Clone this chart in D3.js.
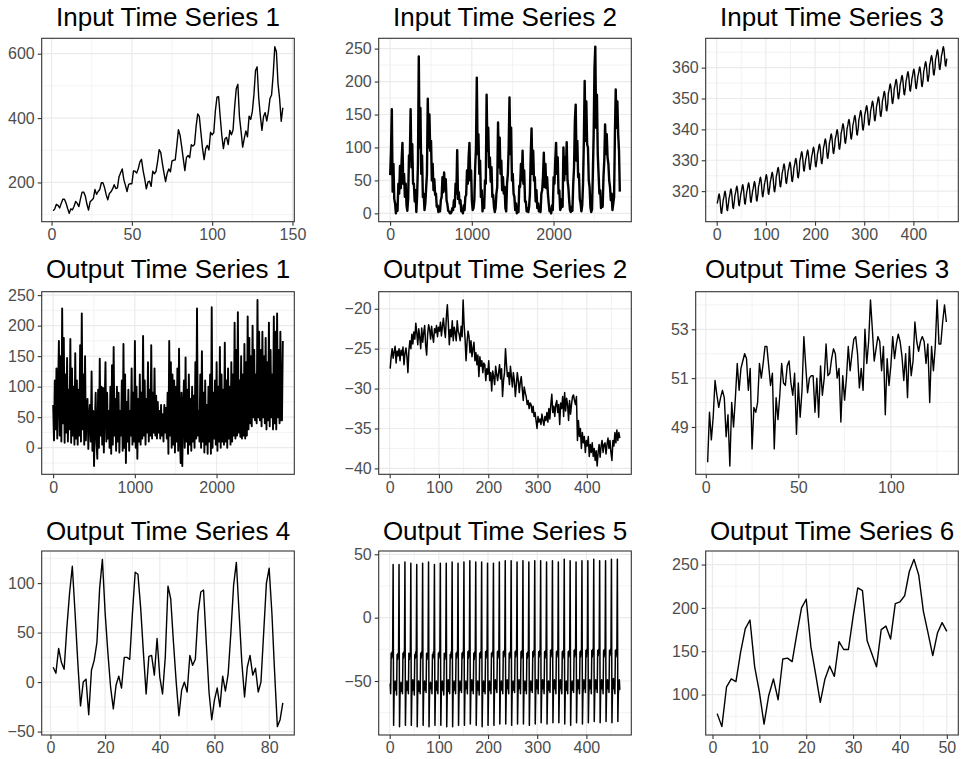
<!DOCTYPE html>
<html>
<head>
<meta charset="utf-8">
<script src="https://cdn.jsdelivr.net/npm/d3@7"></script>
<style>
  body { margin: 0; background: #fff; }
  text { font-family: "Liberation Sans", Arial, sans-serif; }
</style>
</head>
<body>
<svg id="chart" width="966" height="759"></svg>
<script>
// ---- data ----

// Input 1 : monthly, 144 points
var input1 = [
  112,118,132,129,121,135,148,148,136,119,104,118,
  115,126,141,135,125,149,170,170,158,133,114,140,
  145,150,178,163,172,178,199,199,184,162,146,166,
  171,180,193,181,183,218,230,242,209,191,172,194,
  196,196,236,235,229,243,264,272,237,211,180,201,
  204,188,235,227,234,264,302,293,259,229,203,229,
  242,233,267,269,270,315,364,347,312,274,237,278,
  284,277,317,313,318,374,413,405,355,306,271,306,
  315,301,356,348,355,422,465,467,404,347,305,336,
  340,318,362,348,363,435,491,505,404,359,310,337,
  360,342,406,396,420,472,548,559,463,407,362,405,
  417,391,419,461,472,535,622,606,508,461,390,432
];

// Input 2 : ~2820 points, read every 10th
var input2Step = 10;
var input2 = [
  58,95,158,33,75,22,15,0,14,4,45,30,72,38,80,107,45,60,25,45,
  12,4,22,88,80,158,70,105,45,45,18,35,2,28,75,238,100,160,60,88,
  25,30,5,15,38,60,174,100,150,95,110,50,75,35,52,28,30,10,12,2,
  10,3,20,25,55,32,62,35,52,20,14,4,3,0,0,2,8,5,20,10,
  45,30,96,22,32,15,20,3,6,0,12,5,25,28,65,45,85,107,50,65,
  18,5,8,20,70,100,206,90,120,60,80,25,35,3,18,8,50,45,180,95,
  130,70,85,48,70,25,28,10,2,8,30,40,138,70,115,60,80,35,55,30,
  40,8,3,45,60,100,176,90,130,50,60,30,25,5,15,0,8,2,42,40,
  75,50,95,45,65,18,18,3,8,2,10,30,90,129,60,95,50,55,18,35,
  8,15,3,4,2,30,35,55,92,40,75,38,55,30,15,3,5,0,12,5,
  55,45,80,107,60,85,30,35,5,8,22,10,100,50,85,60,108,50,40,20,
  5,2,10,4,45,70,140,165,80,110,55,60,22,15,3,12,45,110,201,110,
  170,105,100,50,40,10,2,6,60,120,220,253,130,180,90,60,30,35,8,15,
  10,55,80,135,90,120,85,75,50,40,20,30,5,15,25,120,188,130,170,120,
  95,33
];

// Input 3 : monthly, 468 points
var input3 = [
  316.0,316.7,317.5,318.6,319.1,318.4,316.9,314.8,313.0,312.8,314.1,315.2,
  316.9,317.6,318.4,319.5,320.0,319.3,317.8,315.7,313.9,313.7,315.0,316.1,
  317.6,318.3,319.1,320.2,320.7,320.0,318.5,316.4,314.6,314.4,315.7,316.8,
  318.5,319.2,320.0,321.1,321.6,320.9,319.4,317.3,315.5,315.3,316.6,317.7,
  319.0,319.7,320.5,321.6,322.1,321.4,319.9,317.8,316.0,315.8,317.1,318.2,
  319.6,320.3,321.1,322.2,322.7,322.0,320.5,318.4,316.6,316.4,317.7,318.8,
  320.0,320.7,321.5,322.6,323.1,322.4,320.9,318.8,317.0,316.8,318.1,319.2,
  321.4,322.1,322.9,324.0,324.5,323.8,322.3,320.2,318.4,318.2,319.5,320.6,
  322.2,322.9,323.7,324.8,325.3,324.6,323.1,321.0,319.2,319.0,320.3,321.4,
  323.0,323.7,324.5,325.6,326.1,325.4,323.9,321.8,320.0,319.8,321.1,322.2,
  324.6,325.3,326.1,327.2,327.7,327.0,325.5,323.4,321.6,321.4,322.7,323.8,
  325.7,326.4,327.2,328.3,328.8,328.1,326.6,324.5,322.7,322.5,323.8,324.9,
  326.3,327.0,327.8,328.9,329.4,328.7,327.2,325.1,323.3,323.1,324.4,325.5,
  327.5,328.2,329.0,330.1,330.6,329.9,328.4,326.3,324.5,324.3,325.6,326.7,
  329.7,330.4,331.2,332.3,332.8,332.1,330.6,328.5,326.7,326.5,327.8,328.9,
  330.2,330.9,331.7,332.8,333.3,332.6,331.1,329.0,327.2,327.0,328.3,329.4,
  331.1,331.8,332.6,333.7,334.2,333.5,332.0,329.9,328.1,327.9,329.2,330.3,
  332.1,332.8,333.6,334.7,335.2,334.5,333.0,330.9,329.1,328.9,330.2,331.3,
  333.8,334.5,335.3,336.4,336.9,336.2,334.7,332.6,330.8,330.6,331.9,333.0,
  335.4,336.1,336.9,338.0,338.5,337.8,336.3,334.2,332.4,332.2,333.5,334.6,
  336.8,337.5,338.3,339.4,339.9,339.2,337.7,335.6,333.8,333.6,334.9,336.0,
  338.7,339.4,340.2,341.3,341.8,341.1,339.6,337.5,335.7,335.5,336.8,337.9,
  340.1,340.8,341.6,342.7,343.2,342.5,341.0,338.9,337.1,336.9,338.2,339.3,
  341.4,342.1,342.9,344.0,344.5,343.8,342.3,340.2,338.4,338.2,339.5,340.6,
  343.0,343.7,344.5,345.6,346.1,345.4,343.9,341.8,340.0,339.8,341.1,342.2,
  344.6,345.3,346.1,347.2,347.7,347.0,345.5,343.4,341.6,341.4,342.7,343.8,
  346.0,346.7,347.5,348.6,349.1,348.4,346.9,344.8,343.0,342.8,344.1,345.2,
  347.4,348.1,348.9,350.0,350.5,349.8,348.3,346.2,344.4,344.2,345.5,346.6,
  349.2,349.9,350.7,351.8,352.3,351.6,350.1,348.0,346.2,346.0,347.3,348.4,
  351.6,352.3,353.1,354.2,354.7,354.0,352.5,350.4,348.6,348.4,349.7,350.8,
  353.1,353.8,354.6,355.7,356.2,355.5,354.0,351.9,350.1,349.9,351.2,352.3,
  354.4,355.1,355.9,357.0,357.5,356.8,355.3,353.2,351.4,351.2,352.5,353.6,
  355.6,356.3,357.1,358.2,358.7,358.0,356.5,354.4,352.6,352.4,353.7,354.8,
  356.4,357.1,357.9,359.0,359.5,358.8,357.3,355.2,353.4,353.2,354.5,355.6,
  357.1,357.8,358.6,359.7,360.2,359.5,358.0,355.9,354.1,353.9,355.2,356.3,
  358.8,359.5,360.3,361.4,361.9,361.2,359.7,357.6,355.8,355.6,356.9,358.0,
  360.8,361.5,362.3,363.4,363.9,363.2,361.7,359.6,357.8,357.6,358.9,360.0,
  362.6,363.3,364.1,365.2,365.7,365.0,363.5,361.4,359.6,359.4,360.7,361.8,
  363.7,364.4,365.2,366.3,366.8,366.1,364.6,362.5,360.7,360.5,361.8,362.9
];

// Output 1 : ~2820 points, read every 10th
var output1Step = 10;
var output1 = [
  70,12,110,30,130,15,95,175,20,150, 10,228,40,180,8,120,25,147,10,95,
  30,178,8,130,20,100,5,155,15,110, 5,95,20,168,10,220,30,120,5,150,
  12,60,80,-2,50,70,10,125,-5,60, -30,40,90,10,-18,95,0,146,20,100,
  5,98,-8,70,140,10,90,15,60,0, 100,-10,135,5,165,20,80,-5,100,10,
  90,-8,60,20,110,-5,170,0,120,-25, 75,10,95,-5,60,20,130,5,90,10,
  175,0,100,-18,80,10,120,5,90,15, 183,20,110,5,80,25,140,10,95,20,
  168,15,90,25,130,20,85,15,75,25, 60,15,70,20,55,10,70,25,65,15,
  90,-10,175,20,140,0,120,5,110,-8, 100,10,130,-5,162,20,-25,90,-30,60,
  110,0,148,10,95,-10,120,5,80,-5, 100,10,85,0,140,15,228,20,60,10,
  120,0,158,10,90,-8,110,5,70,-10, 100,10,120,-10,230,0,90,15,110,5,
  140,-5,100,10,165,0,120,10,95,5, 172,10,110,0,130,15,100,5,140,10,
  120,20,205,15,160,20,222,25,110,18, 150,15,120,20,170,15,140,20,215,30,
  180,40,150,35,200,50,160,45,120,40, 242,50,190,45,160,35,190,50,150,40,
  180,30,140,45,205,35,160,50,120,30, 215,40,190,30,220,50,160,40,190,45,
  45,175
];

// Output 2 : 468 points, read every 2nd
var output2Step = 2;
var output2 = [
  -27.5,-26.0,-25.0,-26.2,-25.4,-24.7,-26.8,-25.3,-25.9,-25.0,
  -26.5,-25.2,-25.8,-24.8,-27.0,-25.6,-24.9,-26.0,-28.0,-25.2,
  -24.0,-25.0,-23.2,-24.4,-22.9,-23.8,-21.8,-23.0,-24.5,-22.5,
  -23.6,-25.0,-22.4,-24.2,-23.0,-22.1,-24.6,-25.8,-23.2,-22.0,
  -22.6,-23.8,-22.2,-23.4,-24.2,-22.5,-23.0,-22.1,-23.5,-22.3,
  -22.8,-21.7,-23.4,-22.2,-21.2,-22.6,-23.6,-21.0,-19.5,-21.8,
  -24.5,-22.6,-23.5,-21.5,-24.0,-22.3,-23.0,-24.0,-21.5,-22.8,
  -23.2,-24.0,-22.2,-23.5,-18.9,-22.0,-23.8,-26.5,-24.2,-22.8,
  -23.5,-25.5,-24.0,-26.0,-25.0,-24.2,-26.5,-25.5,-27.0,-25.8,
  -28.5,-26.0,-27.2,-26.5,-28.0,-26.8,-27.0,-29.0,-27.5,-28.2,
  -26.5,-29.0,-28.0,-30.3,-27.8,-28.5,-29.5,-27.2,-28.2,-29.0,
  -28.0,-27.0,-28.8,-27.5,-31.0,-29.0,-28.0,-25.0,-27.0,-28.5,
  -28.0,-29.5,-27.2,-28.5,-29.8,-28.0,-29.0,-31.0,-29.5,-28.0,
  -29.0,-30.5,-29.2,-28.5,-30.0,-31.5,-29.8,-30.5,-31.0,-32.0,
  -31.5,-32.5,-31.8,-32.0,-33.0,-32.2,-33.5,-33.0,-34.0,-35.0,
  -33.5,-34.2,-33.8,-34.5,-33.2,-34.0,-34.6,-33.5,-34.0,-33.0,
  -34.2,-32.5,-33.8,-32.0,-30.7,-33.0,-32.2,-33.5,-32.0,-31.5,
  -33.0,-32.0,-34.5,-31.8,-32.5,-31.0,-33.5,-30.5,-32.8,-31.2,
  -32.0,-34.0,-31.5,-33.2,-32.0,-31.0,-30.8,-31.5,-32.0,-31.0,
  -36.5,-34.0,-36.0,-35.0,-37.5,-35.5,-36.8,-36.0,-38.0,-36.5,
  -37.2,-36.0,-38.5,-37.0,-38.0,-36.8,-38.5,-37.5,-39.0,-37.8,
  -39.7,-38.0,-37.0,-38.6,-37.2,-36.5,-38.0,-37.0,-36.8,-38.2,
  -37.0,-36.2,-37.5,-36.5,-38.0,-39.0,-36.5,-37.2,-35.5,-36.8,
  -35.2,-36.5,-35.5,-36.2
];

// Output 3 : 130 points
var output3 = [
  47.55,49.6,48.47,49.4,50.9,50.3,49.8,50.2,50.5,50.2,48.6,49.5,47.4,50.0,49.0,
  50.2,51.6,50.5,51.4,51.7,52.0,51.8,50.5,51.4,48.1,49.8,49.6,50.0,51.6,51.0,
  51.6,52.3,52.3,51.5,50.7,51.2,48.1,50.2,49.3,50.3,51.6,50.8,50.7,51.5,51.7,
  50.8,50.3,51.2,48.7,50.8,49.4,50.5,52.7,51.5,50.4,51.0,51.1,51.1,49.6,51.0,
  49.4,51.5,50.3,51.0,52.4,51.1,51.2,51.8,52.2,52.0,51.0,51.4,49.2,51.1,50.1,
  51.0,52.3,51.3,52.0,52.6,52.7,52.0,50.6,51.4,50.5,53.0,51.6,52.5,54.2,53.0,
  51.7,52.2,52.7,52.5,51.3,52.3,49.5,51.8,50.7,51.5,52.7,51.8,52.4,52.8,52.5,
  51.9,50.9,52.0,50.2,52.3,51.1,51.7,53.3,52.5,52.1,52.5,52.7,52.5,51.6,52.4,
  50.0,52.3,51.3,52.3,54.2,52.4,52.4,53.3,54.0,53.3
];

// Output 4 : 85 points
var output4 = [
  15,9,34,20,13,55,90,117,70,20,-24,0,3,-33,12,22,40,95,124,70,
  30,-5,-27,-3,6,-6,25,25,23,70,111,109,75,30,-12,26,27,7,44,5,
  -12,25,97,84,40,0,-34,-8,0,-10,27,17,23,70,91,93,40,-10,-38,-18,
  -6,-25,6,-9,8,50,98,121,70,20,-15,15,27,7,14,-10,0,50,100,115,
  70,10,-45,-38,-21
];

// Output 5 : monthly, 468 points
var output5 = [
  -52,-60,-28,-32,-27,-30,42,-85,-60,-55,-50,-57,
  -51,-61,-29,-33,-28,-31,42,-86,-61,-56,-51,-58,
  -52,-60,-28,-32,-27,-30,44,-85,-60,-55,-50,-57,
  -53,-60,-28,-33,-28,-30,43,-85,-61,-55,-49,-57,
  -52,-61,-29,-32,-27,-31,42,-86,-60,-56,-50,-58,
  -51,-60,-28,-32,-27,-30,43,-85,-60,-55,-50,-57,
  -52,-59,-28,-33,-28,-30,44,-86,-61,-55,-51,-56,
  -52,-60,-29,-32,-27,-31,42,-85,-60,-56,-50,-57,
  -51,-60,-28,-32,-27,-30,43,-85,-60,-55,-50,-57,
  -52,-61,-28,-33,-28,-30,43,-86,-61,-55,-49,-58,
  -53,-60,-29,-32,-27,-31,44,-86,-60,-56,-50,-57,
  -52,-60,-28,-32,-27,-30,43,-85,-60,-55,-50,-57,
  -51,-59,-28,-32,-27,-29,44,-85,-59,-55,-50,-56,
  -52,-60,-27,-32,-26,-30,45,-84,-60,-54,-49,-57,
  -52,-60,-28,-33,-27,-30,44,-85,-61,-55,-50,-57,
  -51,-61,-28,-32,-27,-31,44,-86,-60,-56,-50,-58,
  -52,-60,-27,-32,-26,-30,43,-85,-60,-55,-50,-57,
  -52,-60,-28,-31,-27,-29,43,-85,-60,-55,-49,-56,
  -51,-59,-27,-32,-26,-30,44,-84,-59,-54,-50,-57,
  -52,-60,-27,-31,-26,-29,45,-84,-60,-55,-49,-56,
  -51,-60,-28,-32,-27,-30,45,-85,-60,-55,-50,-57,
  -52,-59,-27,-31,-26,-29,44,-84,-59,-54,-49,-56,
  -51,-60,-27,-32,-26,-30,45,-84,-60,-55,-50,-57,
  -52,-60,-28,-32,-27,-30,44,-85,-60,-55,-50,-57,
  -51,-59,-27,-31,-26,-29,45,-84,-59,-54,-49,-56,
  -52,-60,-27,-31,-26,-29,45,-83,-60,-55,-49,-56,
  -51,-60,-27,-32,-26,-30,44,-84,-60,-55,-50,-57,
  -52,-59,-26,-31,-25,-29,45,-83,-59,-54,-49,-56,
  -51,-60,-27,-31,-26,-29,44,-83,-60,-55,-49,-56,
  -52,-60,-27,-32,-26,-30,46,-84,-60,-55,-50,-57,
  -51,-60,-27,-31,-26,-29,45,-85,-60,-55,-50,-57,
  -52,-59,-26,-31,-25,-29,44,-83,-59,-54,-49,-56,
  -51,-60,-27,-31,-26,-29,45,-84,-60,-55,-49,-56,
  -52,-59,-26,-31,-25,-28,45,-83,-59,-54,-49,-56,
  -51,-60,-26,-31,-25,-29,46,-82,-60,-55,-49,-56,
  -52,-59,-26,-30,-25,-28,45,-83,-59,-54,-49,-56,
  -51,-60,-26,-31,-25,-29,45,-82,-60,-55,-49,-56,
  -52,-59,-26,-30,-25,-28,46,-83,-59,-54,-48,-56,
  -51,-60,-26,-31,-25,-29,46,-82,-60,-55,-49,-57
];

// Output 6 : 50 points
var output6 = [
  78,63,109,118,115,149,176,186,132,103,66,99,118,94,141,142,138,170,200,210,
  155,124,91,118,133,121,161,152,152,190,223,220,162,147,132,175,179,164,205,207,
  214,242,256,238,196,171,145,171,183,173
];

// tick values
var ticksX1 = [0, 50, 100, 150],            ticksY1 = [200, 400, 600];
var ticksX2 = [0, 1000, 2000],              ticksY2 = [0, 50, 100, 150, 200, 250];
var ticksX3 = [0, 100, 200, 300, 400],      ticksY3 = [320, 330, 340, 350, 360];
var ticksX4 = [0, 1000, 2000],              ticksY4 = [0, 50, 100, 150, 200, 250];
var ticksX5 = [0, 100, 200, 300, 400],      ticksY5 = [-40, -35, -30, -25, -20];
var ticksX6 = [0, 50, 100],                 ticksY6 = [49, 51, 53];
var ticksX7 = [0, 20, 40, 60, 80],          ticksY7 = [-50, 0, 50, 100];
var ticksX8 = [0, 100, 200, 300, 400],      ticksY8 = [-50, 0, 50];
var ticksX9 = [0, 10, 20, 30, 40, 50],      ticksY9 = [100, 150, 200, 250];

// ---- layout ----
// lw: the long series are overplotted in the original, so they read heavier
var panels = [
  {title: "Input Time Series 1",  y: input1,  step: 1,            xt: ticksX1, yt: ticksY1, l: 41.7,  t: 38.3,  r: 294.3, b: 221.7, tb: 26,    lw: 1.4},
  {title: "Input Time Series 2",  y: input2,  step: input2Step,   xt: ticksX2, yt: ticksY2, l: 378.7, t: 38.3,  r: 631.3, b: 221.7, tb: 26,    lw: 2.4},
  {title: "Input Time Series 3",  y: input3,  step: 1,            xt: ticksX3, yt: ticksY3, l: 705.7, t: 38.3,  r: 958.3, b: 221.7, tb: 26,    lw: 1.4},
  {title: "Output Time Series 1", y: output1, step: output1Step,  xt: ticksX4, yt: ticksY4, l: 41.7,  t: 291.7, r: 294.3, b: 474.3, tb: 277.5, lw: 1.9},
  {title: "Output Time Series 2", y: output2, step: output2Step,  xt: ticksX5, yt: ticksY5, l: 378.7, t: 291.7, r: 631.3, b: 474.3, tb: 277.5, lw: 1.5},
  {title: "Output Time Series 3", y: output3, step: 1,            xt: ticksX6, yt: ticksY6, l: 695.7, t: 291.7, r: 958.3, b: 474.3, tb: 277.5, lw: 1.4},
  {title: "Output Time Series 4", y: output4, step: 1,            xt: ticksX7, yt: ticksY7, l: 41.7,  t: 551,   r: 294.3, b: 735,   tb: 539.5, lw: 1.4},
  {title: "Output Time Series 5", y: output5, step: 1,            xt: ticksX8, yt: ticksY8, l: 378.7, t: 551,   r: 631.3, b: 735,   tb: 539.5, lw: 1.5},
  {title: "Output Time Series 6", y: output6, step: 1,            xt: ticksX9, yt: ticksY9, l: 705.7, t: 551,   r: 958.3, b: 735,   tb: 539.5, lw: 1.4}
];

var svg = d3.select("#chart");
var fmt = function(d) { return d < 0 ? "\u2212" + Math.abs(d) : String(d); };

// ggplot-style 5% padding
function expand(ext) {
  var pad = (ext[1] - ext[0]) * 0.05;
  return [ext[0] - pad, ext[1] + pad];
}

// minor breaks half way between the major ones
function minors(major, dom) {
  var s = major[1] - major[0], out = [];
  for (var v = major[0] - s / 2; v <= major[major.length - 1] + s / 2; v += s) {
    if (v >= dom[0] && v <= dom[1]) out.push(v);
  }
  return out;
}

panels.forEach(function(p) {
  var pts = p.y.map(function(v, i) { return {x: 1 + i * p.step, y: v}; });
  var xd = expand(d3.extent(pts, function(d) { return d.x; }));
  var yd = expand(d3.extent(pts, function(d) { return d.y; }));
  var x = d3.scaleLinear().domain(xd).range([p.l, p.r]);
  var y = d3.scaleLinear().domain(yd).range([p.b, p.t]);

  var g = svg.append("g");

  g.append("rect")
    .attr("x", p.l).attr("y", p.t)
    .attr("width", p.r - p.l).attr("height", p.b - p.t)
    .attr("fill", "#fff");

  // grid
  g.selectAll(".vmin").data(minors(p.xt, xd)).enter().append("line")
    .attr("x1", x).attr("x2", x).attr("y1", p.t).attr("y2", p.b)
    .attr("stroke", "#ebebeb").attr("stroke-width", 0.6);
  g.selectAll(".hmin").data(minors(p.yt, yd)).enter().append("line")
    .attr("y1", y).attr("y2", y).attr("x1", p.l).attr("x2", p.r)
    .attr("stroke", "#ebebeb").attr("stroke-width", 0.6);
  g.selectAll(".vmaj").data(p.xt).enter().append("line")
    .attr("x1", x).attr("x2", x).attr("y1", p.t).attr("y2", p.b)
    .attr("stroke", "#ebebeb").attr("stroke-width", 1.2);
  g.selectAll(".hmaj").data(p.yt).enter().append("line")
    .attr("y1", y).attr("y2", y).attr("x1", p.l).attr("x2", p.r)
    .attr("stroke", "#ebebeb").attr("stroke-width", 1.2);

  // series
  var line = d3.line()
    .x(function(d) { return x(d.x); })
    .y(function(d) { return y(d.y); });
  g.append("path")
    .datum(pts)
    .attr("d", line)
    .attr("fill", "none")
    .attr("stroke", "#000")
    .attr("stroke-width", p.lw)
    .attr("stroke-linejoin", "round");

  // border
  g.append("rect")
    .attr("x", p.l).attr("y", p.t)
    .attr("width", p.r - p.l).attr("height", p.b - p.t)
    .attr("fill", "none").attr("stroke", "#333").attr("stroke-width", 1.1);

  // axes
  var ax = g.append("g")
    .attr("transform", "translate(0," + p.b + ")")
    .call(d3.axisBottom(x).tickValues(p.xt).tickSize(4).tickPadding(3).tickFormat(fmt));
  var ay = g.append("g")
    .attr("transform", "translate(" + p.l + ",0)")
    .call(d3.axisLeft(y).tickValues(p.yt).tickSize(4).tickPadding(3).tickFormat(fmt));
  [ax, ay].forEach(function(a) {
    a.select(".domain").remove();
    a.selectAll(".tick line").attr("stroke", "#333").attr("stroke-width", 1.1);
    a.selectAll(".tick text")
      .attr("fill", "#4d4d4d")
      .style("font-size", "16px")
      .style("font-family", "'Liberation Sans', Arial, sans-serif");
  });

  // title
  g.append("text")
    .attr("x", (p.l + p.r) / 2)
    .attr("y", p.tb)
    .attr("text-anchor", "middle")
    .attr("fill", "#000")
    .style("font-size", "26px")
    .text(p.title);
});
</script>
</body>
</html>
